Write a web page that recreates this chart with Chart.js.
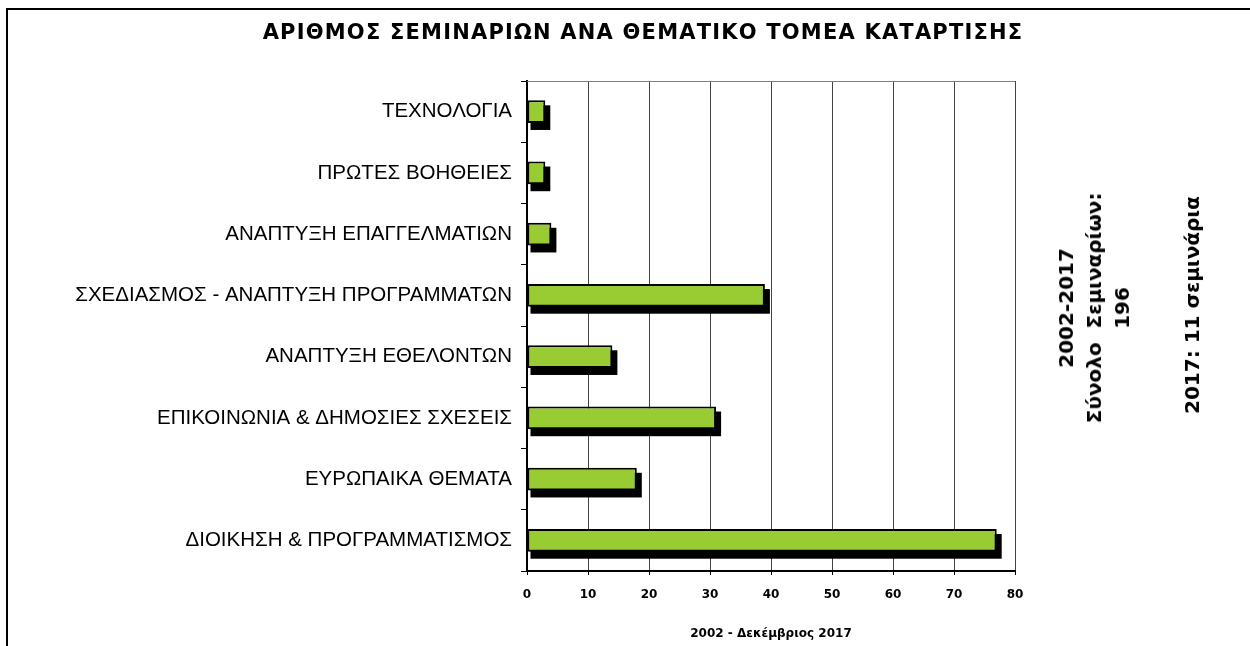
<!DOCTYPE html>
<html>
<head>
<meta charset="utf-8">
<script src="https://cdn.jsdelivr.net/npm/chart.js@4.4.1/dist/chart.umd.min.js"></script>
<style>
    html, body { margin: 0; padding: 0; background: #fff; overflow: hidden; }
    #wrap { position: relative; width: 1250px; height: 646px; overflow: hidden; }
    #frame { position: absolute; left: 6px; top: 8px; width: 1400px; height: 800px;
             border-left: 2px solid #000; border-top: 2px solid #000; }
    #chart { position: absolute; left: 0; top: 0; }
    #title { position: absolute; left: 0; top: 20px; width: 1286px; text-align: center;
             font: bold 21px "DejaVu Sans", sans-serif; letter-spacing: 1.2px;
             line-height: 24px; color: #000; white-space: nowrap; }
    .note { position: absolute; font: bold 20px "DejaVu Sans", sans-serif; color: #000;
            line-height: 28px; text-align: center; white-space: nowrap;
            transform: translate(-50%, -50%) rotate(-90deg); }
</style>
</head>
<body>
<div id="wrap">
    <div id="frame"></div>
    <canvas id="chart" width="1250" height="646"></canvas>
    <div id="title"></div>
    <div class="note" style="left:1094px; top:308px;">2002-2017<br>Σύνολο&nbsp; Σεμιναρίων:<br>196</div>
    <div class="note" style="left:1192px; top:305px;">2017: 11 σεμινάρια</div>
</div>
<script>
// data
const categories = [
    'ΤΕΧΝΟΛΟΓΙΑ',
    'ΠΡΩΤΕΣ ΒΟΗΘΕΙΕΣ',
    'ΑΝΑΠΤΥΞΗ ΕΠΑΓΓΕΛΜΑΤΙΩΝ',
    'ΣΧΕΔΙΑΣΜΟΣ - ΑΝΑΠΤΥΞΗ ΠΡΟΓΡΑΜΜΑΤΩΝ',
    'ΑΝΑΠΤΥΞΗ ΕΘΕΛΟΝΤΩΝ',
    'ΕΠΙΚΟΙΝΩΝΙΑ & ΔΗΜΟΣΙΕΣ ΣΧΕΣΕΙΣ',
    'ΕΥΡΩΠΑΙΚΑ ΘΕΜΑΤΑ',
    'ΔΙΟΙΚΗΣΗ & ΠΡΟΓΡΑΜΜΑΤΙΣΜΟΣ'
];
const seminars = [3, 3, 4, 39, 14, 31, 18, 77];
const xMin = 0;
const xMax = 80;
const xStep = 10;
const chartTitle = 'ΑΡΙΘΜΟΣ ΣΕΜΙΝΑΡΙΩΝ ΑΝΑ ΘΕΜΑΤΙΚΟ ΤΟΜΕΑ ΚΑΤΑΡΤΙΣΗΣ';
const xTitle = '2002 - Δεκέμβριος 2017';

document.getElementById('title').textContent = chartTitle;

// grey top edge of the plot area + black block shadow behind each bar
const barShadow = {
    id: 'barShadow',
    beforeDatasetsDraw(chart) {
        let c = chart.ctx, a = chart.chartArea;
        c.save();
        c.strokeStyle = '#808080';
        c.lineWidth = 1;
        c.beginPath();
        c.moveTo(a.left, a.top + 0.5);
        c.lineTo(a.right, a.top + 0.5);
        c.stroke();

        c.fillStyle = '#000';
        chart.getDatasetMeta(0).data.forEach(function (bar) {
            let p = bar.getProps(['x', 'y', 'base', 'height'], true);
            let left = Math.min(p.base, p.x), right = Math.max(p.base, p.x);
            c.fillRect(left + 3, p.y - p.height / 2 + 5, right - left + 2, p.height + 2);
        });
        c.restore();
    }
};

var ctx = document.getElementById('chart').getContext('2d');
new Chart(ctx, {
    type: 'bar',
    data: {
        labels: categories,
        datasets: [{
            data: seminars,
            backgroundColor: '#99CC33',
            borderColor: '#000',
            borderWidth: 2,
            borderSkipped: false,
            barPercentage: 0.37,
            categoryPercentage: 1
        }]
    },
    options: {
        indexAxis: 'y',
        responsive: false,
        animation: false,
        layout: { padding: { left: 0, right: 235, top: 81, bottom: 0 } },
        plugins: {
            legend: { display: false },
            tooltip: { enabled: false },
            title: { display: false }
        },
        scales: {
            x: {
                min: xMin,
                max: xMax,
                afterFit: function (s) { s.height = 75; },
                ticks: {
                    stepSize: xStep,
                    color: '#000',
                    padding: 13,
                    font: { family: 'DejaVu Sans', size: 12, weight: 'bold' }
                },
                grid: { color: '#444', tickColor: '#000', tickLength: 4 },
                border: { color: '#000', width: 2 },
                title: {
                    display: true,
                    text: xTitle,
                    color: '#000',
                    font: { family: 'DejaVu Sans', size: 12, weight: 'bold' },
                    padding: { top: 0, bottom: 5 }
                }
            },
            y: {
                afterFit: function (s) { s.width = 527; },
                ticks: {
                    color: '#000',
                    padding: 9,
                    font: { family: 'Liberation Sans', size: 20.5 }
                },
                grid: { drawOnChartArea: false, color: '#000', tickColor: '#000', tickLength: 6 },
                border: { color: '#000', width: 2 }
            }
        }
    },
    plugins: [barShadow]
});
</script>
</body>
</html>
